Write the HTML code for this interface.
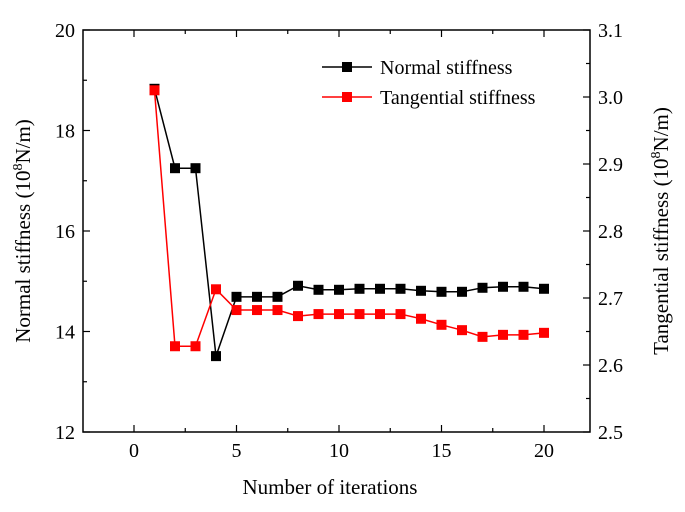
<!DOCTYPE html>
<html><head><meta charset="utf-8"><style>
body{margin:0;background:#fff}
svg{display:block;font-family:"Liberation Serif",serif}
</style></head><body>
<svg id="chart" width="685" height="512" viewBox="0 0 685 512" xmlns="http://www.w3.org/2000/svg">
<g id="axes"></g><g id="series"></g>
<g>
<line x1="322" y1="67" x2="372" y2="67" stroke="#000" stroke-width="1.5"/>
<rect x="342" y="62" width="10" height="10" fill="#000"/>
<text x="380" y="74" font-size="20">Normal stiffness</text>
<line x1="322" y1="97" x2="372" y2="97" stroke="#f00" stroke-width="1.5"/>
<rect x="342" y="92" width="10" height="10" fill="#f00"/>
<text x="380" y="104" font-size="20">Tangential stiffness</text>
</g>
<text x="330" y="494" text-anchor="middle" font-size="21">Number of iterations</text>
<text transform="translate(30,231) rotate(-90)" text-anchor="middle" font-size="21">Normal stiffness (10<tspan font-size="14" dy="-8">8</tspan><tspan dy="8">N/m)</tspan></text>
<text transform="translate(668,231) rotate(-90)" text-anchor="middle" font-size="21">Tangential stiffness (10<tspan font-size="14" dy="-8">8</tspan><tspan dy="8">N/m)</tspan></text>
</svg>
<script>
const iterations=[1,2,3,4,5,6,7,8,9,10,11,12,13,14,15,16,17,18,19,20];
const normalStiffness=[18.83,17.25,17.25,13.51,14.69,14.69,14.69,14.91,14.83,14.83,14.85,14.85,14.85,14.81,14.79,14.79,14.87,14.89,14.89,14.85];
const tangentialStiffness=[3.010,2.628,2.628,2.713,2.682,2.682,2.682,2.673,2.676,2.676,2.676,2.676,2.676,2.669,2.660,2.652,2.642,2.645,2.645,2.648];
const xTicks=[0,5,10,15,20];
const leftTicks=[12,14,16,18,20];
const rightTicks=[2.5,2.6,2.7,2.8,2.9,3.0,3.1];
const L=83,R=590,T=30,B=432;
const xs=v=>134+v*20.5;
const yl=v=>B-(v-12)/8*(B-T);
const yr=v=>B-(v-2.5)/0.6*(B-T);
const NS="http://www.w3.org/2000/svg";
function mk(tag,attrs,parent){const e=document.createElementNS(NS,tag);for(const k in attrs)e.setAttribute(k,attrs[k]);parent.appendChild(e);return e;}
const ax=document.getElementById('axes');
const frame=mk('rect',{x:L,y:T,width:R-L,height:B-T,fill:'none',stroke:'#000','stroke-width':1.5},ax);


for(let v=-2.5;v<=22;v+=2.5){const x=xs(v);if(x<L+2||x>R-2)continue;const major=(v%5===0);const len=major?7:4;
mk('line',{x1:x,y1:B,x2:x,y2:B-len,stroke:'#000','stroke-width':1.2},ax);mk('line',{x1:x,y1:T,x2:x,y2:T+len,stroke:'#000','stroke-width':1.2},ax);}
xTicks.forEach(v=>{const t=mk('text',{x:xs(v),y:B+25,'text-anchor':'middle','font-size':20},ax);t.textContent=v;

});
for(let v=12;v<=20;v+=1){const y=yl(v);const len=v%2===0?7:4;mk('line',{x1:L,y1:y,x2:L+len,y2:y,stroke:'#000','stroke-width':1.2},ax);}
leftTicks.forEach(v=>{const t=mk('text',{x:L-8,y:yl(v)+7,'text-anchor':'end','font-size':20},ax);t.textContent=v;

});
for(let i=0;i<=12;i++){const v=2.5+i*0.05;const y=yr(v);const len=i%2===0?7:4;mk('line',{x1:R,y1:y,x2:R-len,y2:y,stroke:'#000','stroke-width':1.2},ax);}
rightTicks.forEach(v=>{const t=mk('text',{x:R+8,y:yr(v)+7,'font-size':20},ax);t.textContent=v.toFixed(1);

});
const sg=document.getElementById('series');
function draw(vals,yf,color,name){
const pts=iterations.map((x,i)=>xs(x)+','+yf(vals[i])).join(' ');
const pl=mk('polyline',{points:pts,fill:'none',stroke:color,'stroke-width':1.5},sg);


iterations.forEach((x,i)=>{const r=mk('rect',{x:xs(x)-5,y:yf(vals[i])-5,width:10,height:10,fill:color},sg);

});}
draw(normalStiffness,yl,'#000','normal-stiffness');
draw(tangentialStiffness,yr,'#f00','tangential-stiffness');
</script>
</body></html>
